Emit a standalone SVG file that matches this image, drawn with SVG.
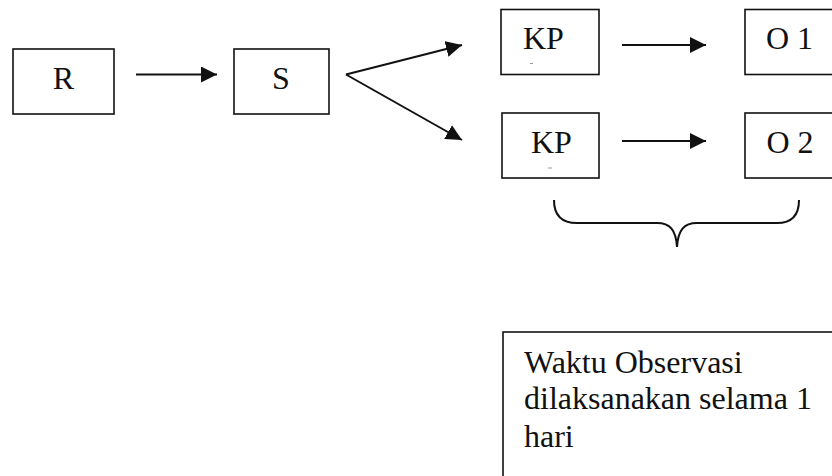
<svg xmlns="http://www.w3.org/2000/svg" width="832" height="476" viewBox="0 0 832 476">
<style>
  .box { fill: #fff; stroke: #111; stroke-width: 1.6; }
  .lbl { font-size: 32px; fill: #111; }
  .conn { fill: none; stroke: #111; stroke-width: 2; }
  .dash { stroke: #999; stroke-width: 1; }
</style>
<defs>
  <marker id="ah" markerWidth="16" markerHeight="16" viewBox="0 0 16 16" refX="16" refY="8" orient="auto" markerUnits="userSpaceOnUse">
    <path d="M0,0 L16,8 L0,16 Z" fill="#111"/>
  </marker>
</defs>
<rect width="832" height="476" fill="#fff"/>
<g font-family="'Liberation Serif', 'Times New Roman', serif">
<g id="node-R">
  <rect class="box" x="13" y="49" width="101" height="65"/>
  <text class="lbl" x="63.5" y="89" text-anchor="middle">R</text>
</g>
<g id="node-S">
  <rect class="box" x="234" y="49" width="95" height="65"/>
  <text class="lbl" x="281" y="89" text-anchor="middle">S</text>
</g>
<g id="node-KP1">
  <rect class="box" x="501" y="9.5" width="98" height="65"/>
  <text class="lbl" x="523" y="49">KP</text>
  <line class="dash" x1="530" y1="63.5" x2="533" y2="63.5"/>
</g>
<g id="node-KP2">
  <rect class="box" x="502" y="113" width="97" height="65"/>
  <text class="lbl" x="531" y="152.5">KP</text>
  <line class="dash" x1="548" y1="168" x2="552" y2="168"/>
</g>
<g id="node-O1">
  <rect class="box" x="745" y="9.5" width="100" height="65"/>
  <text class="lbl" x="766" y="49">O 1</text>
</g>
<g id="node-O2">
  <rect class="box" x="745" y="113" width="100" height="65"/>
  <text class="lbl" x="766.5" y="152.5">O 2</text>
</g>
<g id="node-note">
  <rect class="box" x="503" y="332" width="345" height="160"/>
  <text class="lbl" x="524" y="372.5">Waktu Observasi</text>
  <text class="lbl" x="524" y="409">dilaksanakan selama 1</text>
  <text class="lbl" x="524" y="446.5">hari</text>
</g>
</g>
<g id="connectors">
  <line class="conn" x1="136" y1="74.5" x2="217" y2="74.5" marker-end="url(#ah)"/>
  <line class="conn" x1="346" y1="74.5" x2="462" y2="45" marker-end="url(#ah)"/>
  <line class="conn" x1="346" y1="74.5" x2="462" y2="140" marker-end="url(#ah)"/>
  <line class="conn" x1="622" y1="45" x2="706" y2="45" marker-end="url(#ah)"/>
  <line class="conn" x1="622" y1="141" x2="706" y2="141" marker-end="url(#ah)"/>
  <path class="conn" d="M554,200 C554,215 562,223 577,223 L657,223 C670,223 676,230 677,247 C678,230 684,223 697,223 L777,223 C792,223 799,215 799,200"/>
</g>
</svg>
